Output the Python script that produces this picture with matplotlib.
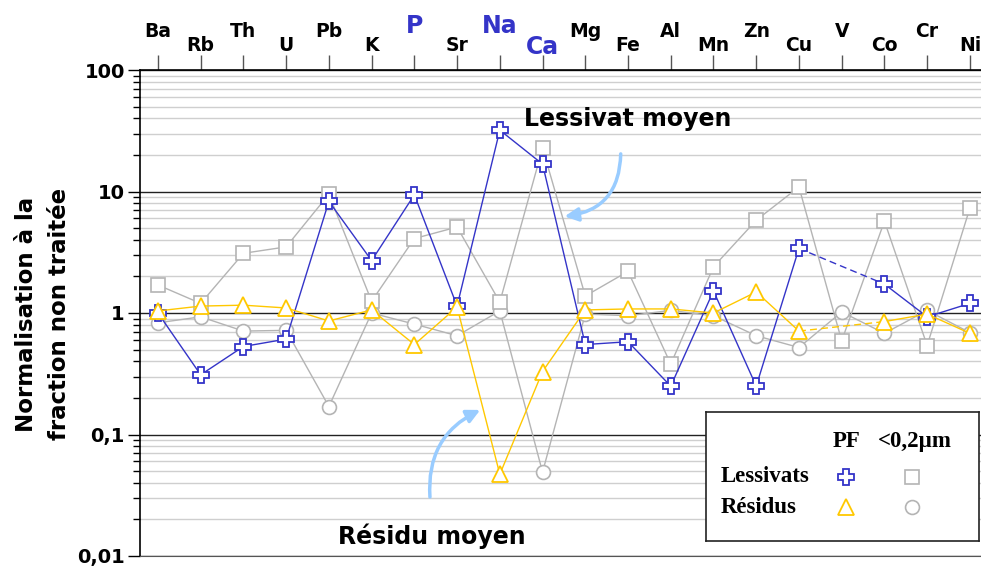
import numpy as np
import matplotlib
matplotlib.use("Agg")
import matplotlib.pyplot as plt
from matplotlib.ticker import FixedLocator, LogLocator, NullFormatter

# Elements (top axis) and which ones are highlighted
elements = ["Ba", "Rb", "Th", "U", "Pb", "K", "P", "Sr", "Na", "Ca",
            "Mg", "Fe", "Al", "Mn", "Zn", "Cu", "V", "Co", "Cr", "Ni"]
highlight = ["P", "Na", "Ca"]

# Normalised concentrations (NaN = not measured)
lessivats_pf = [1.0, 0.31, 0.53, 0.61, 8.3, 2.7, 9.4, 1.14, 32, 16.8,
                0.55, 0.58, 0.25, 1.52, 0.25, 3.4, np.nan, 1.73, 0.93, 1.2]
lessivats_fine = [1.7, 1.2, 3.1, 3.5, 9.5, 1.25, 4.1, 5.1, 1.23, 22.8,
                  1.38, 2.2, 0.38, 2.4, 5.8, 10.9, 0.59, 5.7, 0.54, 7.3]
residus_pf = [1.04, 1.14, 1.16, 1.1, 0.86, 1.06, 0.55, 1.12, 0.047, 0.33,
              1.06, 1.08, 1.08, 1.0, 1.49, 0.71, np.nan, 0.85, 0.98, 0.68]
residus_fine = [0.83, 0.93, 0.71, 0.72, 0.17, 1.0, 0.81, 0.65, 1.04, 0.049,
                0.98, 0.95, 1.05, 0.95, 0.65, 0.52, 1.02, 0.68, 1.05, 0.69]

ytick_values = [0.01, 0.1, 1, 10, 100]
ytick_labels = ["0,01", "0,1", "1", "10", "100"]

BLUE = "#3434c8"
GOLD = "#ffc800"
GREY = "#b4b4b4"
ARROW = "#99ccff"
FONT = "DejaVu Sans"

fig = plt.figure(figsize=(9.81, 5.67), dpi=100)
ax = fig.add_axes([140 / 981, 1 - 556 / 567, 1 - 140 / 981, (556 - 70) / 567])

x = np.arange(len(elements))
ax.set_yscale("log")
ax.set_ylim(0.01, 100)
ax.set_xlim(-0.42, 19.26)

# grid
ax.yaxis.set_major_locator(FixedLocator(ytick_values))
ax.yaxis.set_minor_locator(LogLocator(base=10, subs=np.arange(2, 10)))
ax.yaxis.set_minor_formatter(NullFormatter())
ax.grid(True, which="minor", axis="y", color="#cfcfcf", lw=1.0, zorder=0)
ax.grid(True, which="major", axis="y", color="#222222", lw=1.0, zorder=0.5)
ax.set_yticklabels(ytick_labels, fontsize=14, fontweight="bold", family=FONT)
ax.tick_params(axis="y", which="major", length=9, width=1, pad=2)
ax.tick_params(axis="y", which="minor", length=5, width=1)

ax.spines["right"].set_visible(False)
ax.spines["bottom"].set_color("#555555")
ax.spines["top"].set_linewidth(1.2)
ax.spines["left"].set_linewidth(1.2)


def draw_series(vals, marker, color, ms, mew, z):
    v = np.array(vals, dtype=float)
    ax.plot(x, v, color=color, lw=1.0, marker=marker, ms=ms, mew=mew,
            mfc="white", mec=color, zorder=z, clip_on=False)
    # dashed bridge over missing values
    idx = np.where(~np.isnan(v))[0]
    for a, b in zip(idx[:-1], idx[1:]):
        if b - a > 1:
            ax.plot([x[a], x[b]], [v[a], v[b]], color=color, lw=1.0,
                    ls=(0, (5, 3)), zorder=z - 0.1)


draw_series(residus_fine, "o", GREY, 10, 1.2, 3)
draw_series(lessivats_fine, "s", GREY, 9.5, 1.2, 3.5)
draw_series(lessivats_pf, "P", BLUE, 11.5, 1.3, 4)
draw_series(residus_pf, "^", GOLD, 12, 1.3, 5)

# top axis with staggered element labels
ax.xaxis.set_major_locator(FixedLocator(x))
ax.xaxis.tick_top()
ax.set_xticklabels([])
ax.tick_params(axis="x", which="major", top=True, bottom=False, length=11,
               width=1, color="#555555", direction="out")
trans = ax.get_xaxis_transform()
for i, el in enumerate(elements):
    high = (i % 2 == 0)
    if el in highlight:
        yy = 1.09 if high else 1.048
        ax.text(x[i], yy, el, transform=trans, ha="center", va="center",
                fontsize=17, fontweight="bold", color=BLUE, family=FONT,
                clip_on=False)
    else:
        yy = 1.08 if high else 1.05
        ax.text(x[i], yy, el, transform=trans, ha="center", va="center",
                fontsize=13.5, fontweight="bold", color="black", family=FONT,
                clip_on=False)

# axis title
fig.text(43 / 981, 1 - 314 / 567, "Normalisation à la\nfraction non traitée",
         rotation=90, ha="center", va="center", fontsize=16.5,
         fontweight="bold", family=FONT, linespacing=1.5)

# annotations with curved arrows
ax.text(11.0, 39.5, "Lessivat moyen", ha="center", va="center",
        fontsize=17, fontweight="bold", family=FONT, zorder=6)
ax.annotate("", xy=(9.45, 6.2), xytext=(10.83, 21.5),
            arrowprops=dict(arrowstyle="-|>,head_length=0.8,head_width=0.4",
                            color=ARROW, lw=2.5,
                            connectionstyle="arc3,rad=-0.45"), zorder=6)
ax.text(6.42, 0.0145, "Résidu moyen", ha="center", va="center",
        fontsize=17, fontweight="bold", family=FONT, zorder=6)
ax.annotate("", xy=(7.6, 0.163), xytext=(6.37, 0.029),
            arrowprops=dict(arrowstyle="-|>,head_length=0.8,head_width=0.4",
                            color=ARROW, lw=2.5,
                            connectionstyle="arc3,rad=-0.35"), zorder=6)

# legend box
lax = fig.add_axes([706 / 981, 1 - 541 / 567, (979 - 706) / 981, (541 - 412) / 567])
lax.set_xlim(0, 1)
lax.set_ylim(0, 1)
lax.set_xticks([])
lax.set_yticks([])
lax.set_facecolor("white")
for s in lax.spines.values():
    s.set_linewidth(1.2)
    s.set_color("#222222")
LFONT = "Liberation Serif"
lax.text(0.516, 0.77, "PF", ha="center", va="center", fontsize=16.5,
         fontweight="bold", family=LFONT)
lax.text(0.765, 0.77, "<0,2µm", ha="center", va="center", fontsize=16.5,
         fontweight="bold", family=LFONT)
lax.text(0.055, 0.50, "Lessivats", ha="left", va="center", fontsize=16.5,
         fontweight="bold", family=LFONT)
lax.text(0.055, 0.26, "Résidus", ha="left", va="center", fontsize=16.5,
         fontweight="bold", family=LFONT)
lax.plot([0.513], [0.50], marker="P", ms=11.5, mfc="white", mec=BLUE, mew=1.3)
lax.plot([0.755], [0.50], marker="s", ms=9.5, mfc="white", mec=GREY, mew=1.2)
lax.plot([0.513], [0.26], marker="^", ms=12, mfc="white", mec=GOLD, mew=1.3)
lax.plot([0.755], [0.26], marker="o", ms=10, mfc="white", mec=GREY, mew=1.2)

fig.savefig("out.png", dpi=100)
